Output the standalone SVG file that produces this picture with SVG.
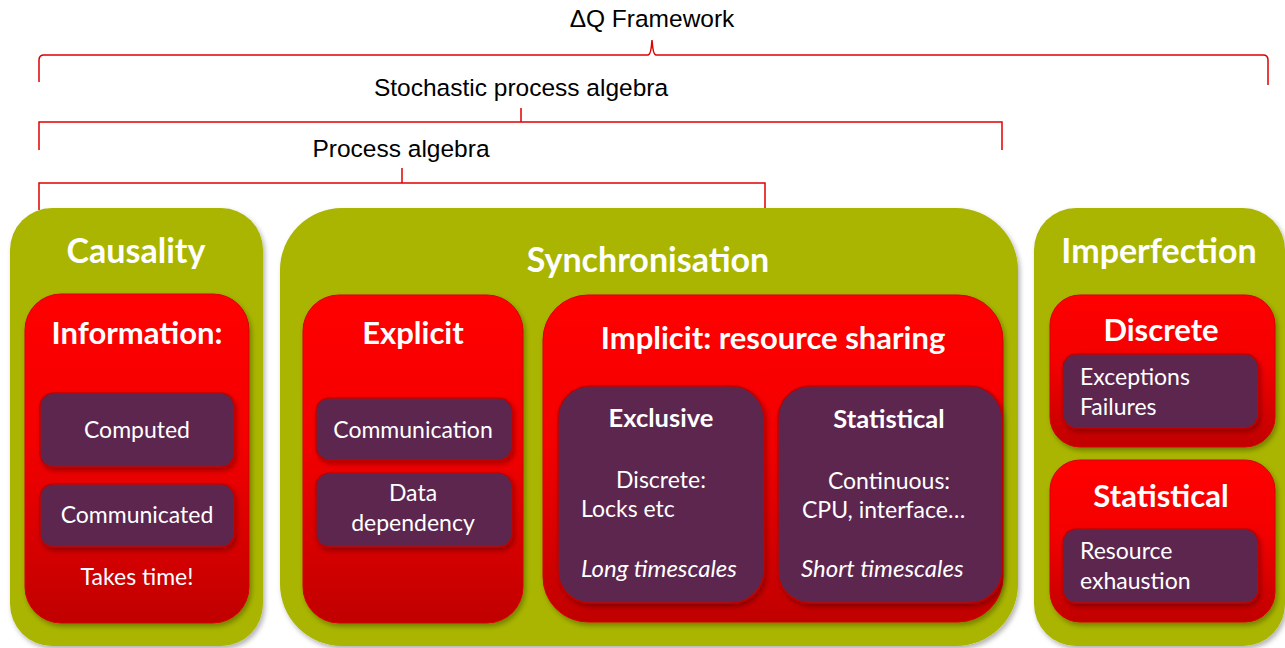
<svg xmlns="http://www.w3.org/2000/svg" width="1285" height="648" viewBox="0 0 1285 648">
<style>
.br{fill:none;stroke:#e00000;stroke-width:1.5}
.top{font-family:"Liberation Sans",Arial,sans-serif;font-size:24.5px;fill:#000;text-anchor:middle}
.green{fill:#a9b500}
.red{fill:url(#rg);stroke:#d40000;stroke-width:1}
.pur{fill:#5c2850;stroke:#c00000;stroke-width:1.5}
.t{font-family:Lato,"Open Sans",sans-serif;fill:#fff}
.h1{font-size:34px;font-weight:bold;text-anchor:middle}
.h2{font-size:31px;font-weight:bold;text-anchor:middle}
.h3{font-size:25.5px;font-weight:bold;text-anchor:middle}
.b{font-size:23px}
.c{text-anchor:middle}
.i{font-style:italic;font-size:24px}
</style>
<defs>
<linearGradient id="rg" x1="0" y1="0" x2="0" y2="1">
<stop offset="0" stop-color="#ff0000"/>
<stop offset="0.45" stop-color="#f40000"/>
<stop offset="1" stop-color="#c00000"/>
</linearGradient>
<filter id="sh" x="-10%" y="-10%" width="125%" height="125%">
<feDropShadow dx="2" dy="3" stdDeviation="2.5" flood-color="#000" flood-opacity="0.3"/>
</filter>
</defs>
<rect width="1285" height="648" fill="#fff"/>
<g id="brackets">
<path class="br" d="M39,82 V60 Q39,55 44,55 H648 Q651,55 652,40 Q653,55 656,55 H1263 Q1268,55 1268,60 V85"/>
<path class="br" d="M39,150 V122 H521 V108 M521,122 H1002 V150"/>
<path class="br" d="M39,210 V183 H402 V168 M402,183 H765 V210"/>
<text class="top" x="652" y="27">ΔQ Framework</text>
<text class="top" x="521" y="96">Stochastic process algebra</text>
<text class="top" x="401" y="157">Process algebra</text>
</g>
<g id="causality">
<rect class="green" x="10" y="208" width="253" height="438" rx="42" filter="url(#sh)"/>
<text class="t h1" x="136" y="263">Causality</text>
<g id="information">
<rect class="red" x="25" y="294" width="224" height="329" rx="36" filter="url(#sh)"/>
<text class="t h2" x="137" y="344">Information:</text>
<rect class="pur" x="40" y="393" width="194" height="74" rx="13" filter="url(#sh)"/>
<text class="t b c" x="137" y="438">Computed</text>
<rect class="pur" x="40" y="484" width="194" height="63" rx="13" filter="url(#sh)"/>
<text class="t b c" x="137" y="523">Communicated</text>
<text class="t b c" x="137" y="585">Takes time!</text>
</g>
</g>
<g id="synchronisation">
<rect class="green" x="280" y="208" width="738" height="438" rx="62" filter="url(#sh)"/>
<text class="t h1" x="648" y="272">Synchronisation</text>
<g id="explicit">
<rect class="red" x="303" y="295" width="220" height="328" rx="36" filter="url(#sh)"/>
<text class="t h2" x="413" y="344">Explicit</text>
<rect class="pur" x="316" y="398" width="196" height="62" rx="13" filter="url(#sh)"/>
<text class="t b c" x="413" y="438">Communication</text>
<rect class="pur" x="316" y="473" width="196" height="74" rx="13" filter="url(#sh)"/>
<text class="t b c" x="413" y="501">Data</text>
<text class="t b c" x="413" y="531">dependency</text>
</g>
<g id="implicit">
<rect class="red" x="543" y="295" width="460" height="327" rx="45" filter="url(#sh)"/>
<text class="t h2" x="773" y="349">Implicit: resource sharing</text>
<g id="exclusive">
<rect class="pur" x="558" y="386" width="206" height="217" rx="32" filter="url(#sh)"/>
<text class="t h3" x="661" y="427">Exclusive</text>
<text class="t b c" x="661" y="488">Discrete:</text>
<text class="t b" x="581" y="517">Locks etc</text>
<text class="t b i" x="581" y="577">Long timescales</text>
</g>
<g id="statistical-sync">
<rect class="pur" x="778" y="386" width="224" height="217" rx="32" filter="url(#sh)"/>
<text class="t h3" x="889" y="428">Statistical</text>
<text class="t b c" x="889" y="489">Continuous:</text>
<text class="t b" x="802" y="518">CPU, interface…</text>
<text class="t b i" x="801" y="577">Short timescales</text>
</g>
</g>
</g>
<g id="imperfection">
<rect class="green" x="1034" y="208" width="251" height="438" rx="42" filter="url(#sh)"/>
<text class="t h1" x="1159" y="263">Imperfection</text>
<g id="discrete">
<rect class="red" x="1050" y="295" width="225" height="152" rx="30" filter="url(#sh)"/>
<text class="t h2" x="1161" y="341">Discrete</text>
<rect class="pur" x="1063" y="354" width="195" height="74" rx="13" filter="url(#sh)"/>
<text class="t b" x="1080" y="385">Exceptions</text>
<text class="t b" x="1080" y="415">Failures</text>
</g>
<g id="statistical-imp">
<rect class="red" x="1050" y="460" width="225" height="162" rx="30" filter="url(#sh)"/>
<text class="t h2" x="1161" y="507">Statistical</text>
<rect class="pur" x="1063" y="529" width="195" height="74" rx="13" filter="url(#sh)"/>
<text class="t b" x="1080" y="559">Resource</text>
<text class="t b" x="1080" y="589">exhaustion</text>
</g>
</g>
</svg>
